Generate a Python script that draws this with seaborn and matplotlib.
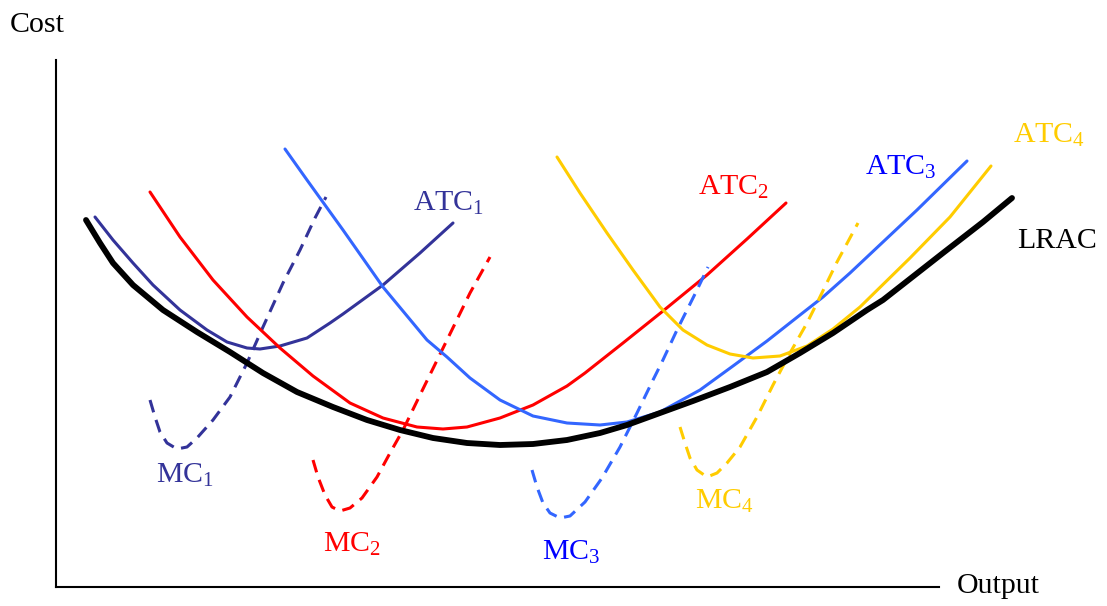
import matplotlib
matplotlib.use("Agg")
import matplotlib.pyplot as plt
import seaborn as sns

# ---- data (Output, Cost) ----
lrac_q = [30, 44, 57, 77, 107, 141, 174, 207, 241, 277, 311, 344, 377, 411, 444, 477, 511, 544, 571,
          604, 637, 674, 711, 744, 777, 811, 827, 887, 927, 956]
lrac_c = [367, 344, 324, 302, 277, 255, 235, 214, 195, 180, 167, 157, 149, 144, 142, 143, 147, 154, 162,
          174, 186, 200, 215, 234, 254, 277, 287, 334, 365, 389]

atc1_q = [39, 57, 77, 97, 124, 151, 171, 191, 204, 224, 251, 274, 287, 327, 364, 397]
atc1_c = [370, 347, 324, 302, 277, 257, 245, 239, 238, 241, 249, 264, 273, 302, 334, 364]
mc1_q = [94, 99, 104, 111, 121, 131, 141, 157, 174, 191, 207, 227, 244, 259, 270]
mc1_c = [187, 170, 155, 144, 138, 140, 149, 167, 190, 224, 260, 304, 337, 369, 390]

atc2_q = [94, 124, 157, 191, 224, 257, 294, 327, 361, 387, 411, 444, 477, 511, 529, 567, 607, 651, 691, 730]
atc2_c = [395, 350, 307, 270, 239, 211, 184, 169, 160, 158, 160, 169, 182, 201, 214, 244, 276, 312, 348, 384]
mc2_q = [257, 262, 269, 276, 284, 294, 306, 321, 334, 347, 364, 391, 414, 434]
mc2_c = [127, 110, 92, 80, 76, 79, 89, 110, 134, 157, 192, 247, 294, 330]

atc3_q = [229, 251, 287, 327, 371, 391, 414, 444, 477, 511, 544, 571, 604, 644, 677, 711, 744, 767, 794, 861, 911]
atc3_c = [438, 407, 357, 300, 247, 230, 209, 187, 171, 164, 162, 165, 175, 197, 221, 246, 272, 290, 314, 377, 426]
mc3_q = [476, 481, 487, 494, 504, 514, 529, 546, 564, 581, 597, 606, 621, 641, 652]
mc3_c = [117, 100, 84, 74, 69, 71, 85, 109, 140, 174, 207, 225, 257, 297, 320]

atc4_q = [501, 524, 551, 577, 604, 627, 651, 674, 697, 724, 751, 777, 804, 854, 894, 935]
atc4_c = [430, 394, 354, 317, 280, 257, 242, 233, 229, 231, 241, 258, 280, 329, 370, 421]
mc4_q = [624, 629, 634, 641, 651, 661, 671, 684, 701, 717, 734, 751, 761, 781, 802]
mc4_c = [160, 144, 129, 117, 110, 114, 124, 140, 170, 202, 234, 264, 284, 325, 364]

labels = ["ATC$_1$", "MC$_1$", "ATC$_2$", "MC$_2$", "ATC$_3$", "MC$_3$", "ATC$_4$", "MC$_4$", "LRAC"]
axis_labels = ["Cost", "Output"]

# ---- style ----
sns.set_style("white")
plt.rcParams["font.family"] = ["Liberation Serif", "DejaVu Serif"]
plt.rcParams["mathtext.fontset"] = "custom"
plt.rcParams["mathtext.rm"] = "Liberation Serif"
plt.rcParams["mathtext.it"] = "Liberation Serif:italic"
plt.rcParams["mathtext.bf"] = "Liberation Serif:bold"

NAVY = "#333399"
RED = "#ff0000"
BLUE = "#3366ff"
BLUE_TXT = "#0000ff"
GOLD = "#ffcc00"

fig = plt.figure(figsize=(11.07, 6.06), dpi=100)
ax = fig.add_axes([0, 0, 1, 1])

lw = 2.2
dash = (0, (4.2, 2.6))
common = dict(sort=False, estimator=None, ax=ax)

sns.lineplot(x=atc1_q, y=atc1_c, color=NAVY, linewidth=lw, **common)
sns.lineplot(x=mc1_q, y=mc1_c, color=NAVY, linewidth=lw, linestyle=dash, **common)
sns.lineplot(x=atc2_q, y=atc2_c, color=RED, linewidth=lw, **common)
sns.lineplot(x=mc2_q, y=mc2_c, color=RED, linewidth=lw, linestyle=dash, **common)
sns.lineplot(x=atc3_q, y=atc3_c, color=BLUE, linewidth=lw, **common)
sns.lineplot(x=mc3_q, y=mc3_c, color=BLUE, linewidth=lw, linestyle=dash, **common)
sns.lineplot(x=atc4_q, y=atc4_c, color=GOLD, linewidth=lw, **common)
sns.lineplot(x=mc4_q, y=mc4_c, color=GOLD, linewidth=lw, linestyle=dash, **common)
sns.lineplot(x=lrac_q, y=lrac_c, color="black", linewidth=4.2, **common)

for line in ax.get_lines():
    line.set_solid_joinstyle("round")
    line.set_dash_joinstyle("round")

ax.set_xlim(-56, 1051)
ax.set_ylim(-19, 587)

# axes as spines crossing at origin
for s in ["top", "right"]:
    ax.spines[s].set_visible(False)
ax.spines["left"].set_position(("data", 0))
ax.spines["bottom"].set_position(("data", 0))
ax.spines["left"].set_bounds(0, 527)
ax.spines["bottom"].set_bounds(0, 883)
for s in ["left", "bottom"]:
    ax.spines[s].set_color("black")
    ax.spines[s].set_linewidth(1.5)
ax.set_xticks([])
ax.set_yticks([])
ax.set_xlabel("")
ax.set_ylabel("")

fs = 21.5
label_pos = [(357, 376), (100, 104), (642, 392), (267, 35), (809, 412),
             (486, 27), (957, 444), (639, 78), (961, 339)]
label_col = [NAVY, NAVY, RED, RED, BLUE_TXT, BLUE_TXT, GOLD, GOLD, "black"]
for t, (x, y), c in zip(labels, label_pos, label_col):
    ax.text(x, y, t, color=c, fontsize=fs, ha="left", va="baseline")

ax.text(-46, 555, axis_labels[0], color="black", fontsize=fs, ha="left", va="baseline")
ax.text(901, -6, axis_labels[1], color="black", fontsize=fs, ha="left", va="baseline")

fig.savefig("out.png", dpi=100)
